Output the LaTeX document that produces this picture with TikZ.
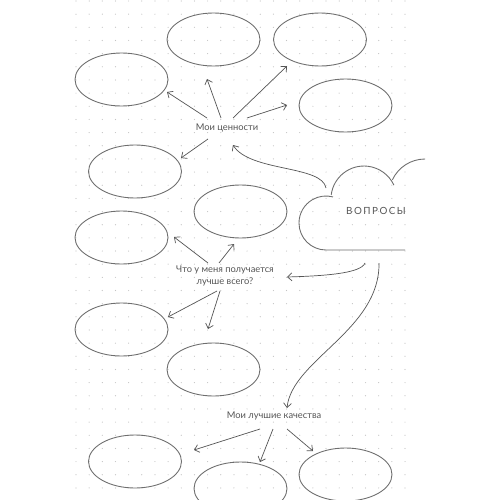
\documentclass[tikz,border=0pt]{standalone}
\usepackage{fontspec}
\setmainfont{Lato}
\usetikzlibrary{shapes.geometric,arrows.meta,calc}
\definecolor{ink}{HTML}{555555}
\definecolor{dotgray}{HTML}{C4C4C4}
\tikzset{
  bubble/.style={draw=ink!85, line width=0.5pt, ellipse, minimum width=1.86cm, minimum height=1.06cm, inner sep=0pt},
  arr/.style={draw=ink, line width=0.4pt, -{Straight Barb[length=2.5pt,width=4.5pt]}},
  lbl/.style={text=ink, font=\fontsize{5.3}{6.8}\selectfont, align=center, inner sep=0pt},
  cloudline/.style={draw=ink!85, line width=0.5pt},
}

\begin{document}
\begin{tikzpicture}[x=0.02cm,y=-0.02cm]
\useasboundingbox (0,0) rectangle (500,500);
\clip (0,0) rectangle (500,500);
\fill[white] (0,0) rectangle (500,500);
% dot grid
\foreach \i in {0,...,25}
  \foreach \j in {0,...,37}
    \fill[dotgray] (76+13.16*\i,1+13.16*\j) circle[radius=0.6];

% bubbles
\node[bubble] (v1) at (213.5,39.5) {};
\node[bubble] (v2) at (320,39.5) {};
\node[bubble] (v3) at (121.5,79.5) {};
\node[bubble] (v4) at (345.5,105.5) {};
\node[bubble] (v5) at (135,171.5) {};
\node[bubble] (b1) at (240.5,211.5) {};
\node[bubble] (b2) at (121.5,237.5) {};
\node[bubble] (b3) at (121.5,329.5) {};
\node[bubble] (b4) at (213.5,369.5) {};
\node[bubble] (t1) at (135,461.5) {};
\node[bubble] (t2) at (240.5,488.5) {};
\node[bubble] (t3) at (345.5,474.5) {};

% labels
\node[lbl] (values) at (227,128) {Мои ценности};
\node[lbl] (best) at (225,276) {Что у меня получается\\лучше всего?};
\node[lbl] (traits) at (274,416) {Мои лучшие качества};
\node[lbl, font=\fontsize{5.6}{7}\selectfont] (questions) at (376,211) {\addfontfeature{LetterSpace=15}ВОПРОСЫ};

% cloud
\draw[cloudline] (405,250) -- (326,250) arc[start angle=90, end angle=285, radius=27];
\draw[cloudline] (331.2,195) arc[start angle=187, end angle=335, radius=33];
\draw[cloudline] (392.4,179.8) arc[start angle=205, end angle=270, radius=36];

% values
\draw[arr] ($(values)+(-20,-10)$) -- ($(v3)+(45.5,12.5)$);
\draw[arr] ($(values)+(-6,-10)$) -- ($(v1)+(-6.5,39.5)$);
\draw[arr] ($(values)+(6,-10)$) -- ($(v2)+(-33,26.5)$);
\draw[arr] ($(values)+(20,-10)$) -- ($(v4)+(-58.5,-0.5)$);
\draw[arr] ($(values)+(-19,11)$) -- ($(v5)+(46,-13.5)$);
% best
\draw[arr] ($(best)+(-17,-13)$) -- ($(b2)+(52.5,-0.5)$);
\draw[arr] ($(best)+(-6,-13)$) -- ($(b1)+(-6.5,32.5)$);
\draw[arr] ($(best)+(-8,15)$) -- ($(b3)+(46.5,-12.5)$);
\draw[arr] ($(best)+(-5,15)$) -- ($(b4)+(-5.5,-40.5)$);
% traits
\draw[arr] ($(traits)+(-14,13)$) -- ($(t1)+(59,-11.5)$);
\draw[arr] ($(traits)+(-1,13)$) -- ($(t2)+(19.5,-26.5)$);
\draw[arr] ($(traits)+(13,13)$) -- ($(t3)+(-32.5,-23.5)$);

% from the cloud
\draw[arr] ($(questions)+(-50,-23)$) .. controls (322,165) and (250,172) .. ($(values)+(6,17)$);
\draw[arr] ($(questions)+(-11,52)$) .. controls (361,274) and (320,276) .. ($(best)+(62,1)$);
\draw[arr] ($(questions)+(3,52)$) .. controls (380,330) and (292,360) .. ($(traits)+(13,-8)$);
\end{tikzpicture}
\end{document}
